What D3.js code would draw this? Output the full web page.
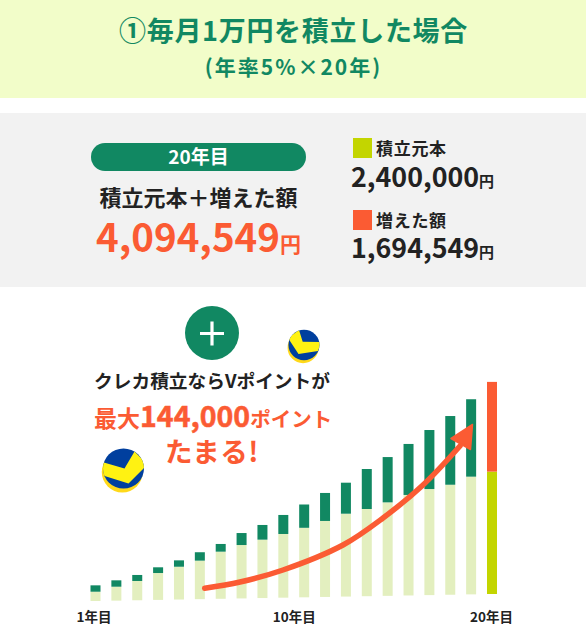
<!DOCTYPE html>
<html lang="ja"><head><meta charset="utf-8">
<script src="https://cdn.jsdelivr.net/npm/d3@7/dist/d3.min.js"></script>
<style>html,body{margin:0;padding:0;background:#fff}svg{display:block}
text{font-family:"Noto Sans CJK JP","Noto Sans",sans-serif;font-weight:700}</style></head>
<body><div id="c"></div>
<script>
const years = d3.range(1, 21);
const principal = [182000,273000,378000,527000,643000,755000,924000,1047000,1145000,1249000,1363000,1490000,1625000,1710000,1833000,1971000,2080000,2157000,2308000,2400000];
const growth = [125000,125000,118000,112000,125000,165000,151000,235000,288000,373000,457000,549000,608000,784000,888000,1000000,1157000,1347000,1518000,1759000];
const tickYears = [1, 10, 20];
const tickLabels = ["1年目", "10年目", "20年目"];

const GREEN="#118862", ORANGE="#FB5B33", LIME="#C3D500", PALE="#E3EFBF", INK="#222222";
const svg = d3.select("#c").append("svg").attr("width",586).attr("height",639);
function txt(s,x,y,size,fill,anchor="middle",ls=0){
  return svg.append("text").attr("x",x).attr("y",y).attr("font-size",size).attr("fill",fill)
    .attr("text-anchor",anchor).attr("letter-spacing",ls).text(s);
}
svg.append("rect").attr("width",586).attr("height",98).attr("fill","#F2FDC9");
svg.append("rect").attr("y",113).attr("width",586).attr("height",174).attr("fill","#F2F2F2");
txt("①毎月1万円を積立した場合",293.5,41,27,GREEN,"middle",0.7);
txt("(年率5%×20年)",293.5,74.5,21,GREEN,"middle",2);

svg.append("rect").attr("x",91).attr("y",143).attr("width",215).attr("height",28).attr("rx",14).attr("fill",GREEN);
txt("20年目",198.5,164,19,"#fff");
txt("積立元本＋増えた額",198.5,206,22,INK);
const big=txt("4,094,549",96,252,38.5,ORANGE,"start");
big.append("tspan").attr("font-size",21).text("円");

svg.append("rect").attr("x",353).attr("y",138).attr("width",19).attr("height",20).attr("fill",LIME);
txt("積立元本",376,154.5,17,INK,"start",0.7);
txt("2,400,000",351,187,26.8,INK,"start").append("tspan").attr("font-size",15).text("円");
svg.append("rect").attr("x",353).attr("y",210).attr("width",19).attr("height",20).attr("fill",ORANGE);
txt("増えた額",376,226.5,17,INK,"start",0.7);
txt("1,694,549",351,258,26.8,INK,"start").append("tspan").attr("font-size",15).text("円");

svg.append("circle").attr("cx",212).attr("cy",333).attr("r",27).attr("fill",GREEN);
svg.append("path").attr("d","M200 333.5H224M212 321.5V345.5").attr("stroke","#fff").attr("stroke-width",3.2);

txt("クレカ積立ならVポイントが",212,388,18.7,INK);
const t2=txt("最大",94,427,23,ORANGE,"start");
t2.append("tspan").attr("font-size",28.5).attr("stroke",ORANGE).attr("stroke-width",0.5).text("144,000");
t2.append("tspan").attr("font-size",20.5).text("ポイント");
txt("たまる!",212,462,27.5,ORANGE,"middle",0.5);

function coin(id,cx,cy,r,vee){
  const g=svg.append("g").attr("transform",`translate(${cx},${cy})`);
  g.append("circle").attr("cx",-r*0.06).attr("cy",r*0.17).attr("r",r).attr("fill","#FFD91A");
  g.append("ellipse").attr("rx",r).attr("ry",r*0.98).attr("fill","#003F9E");
  g.append("clipPath").attr("id",id).append("circle").attr("r",r);
  g.append("path").attr("clip-path",`url(#${id})`).attr("d",vee).attr("fill","#FFF212");
}
coin("coinA",123.5,468.5,20.5,"M-23 -7L1 0L11 -17L24 -4L5 15L-24 6Z");
coin("coinB",304,345,15.5,"M-16 -7L-5 -15L-1.3 -3.3L17 -3L14 6L-5.5 9Z");

const x = d3.scaleLinear().domain([1,20]).range([95.5,492]);
const h = d3.scaleLinear().domain([0,1000000]).range([0,51]);
const base = d3.scaleLinear().domain([1,20]).range([601,594]);
const bw = 10;
const rows = years.map((y,i)=>({y,p:principal[i],g:growth[i]}));
const bars = svg.append("g");
bars.selectAll(".p").data(rows).join("rect").attr("class","p")
  .attr("x",d=>x(d.y)-bw/2).attr("width",bw)
  .attr("y",d=>base(d.y)-h(d.p)).attr("height",d=>h(d.p))
  .attr("fill",d=>d.y===20?LIME:PALE);
bars.selectAll(".g").data(rows).join("rect").attr("class","g")
  .attr("x",d=>x(d.y)-bw/2).attr("width",bw)
  .attr("y",d=>base(d.y)-h(d.p)-h(d.g)).attr("height",d=>h(d.g))
  .attr("fill",d=>d.y===20?ORANGE:GREEN);
svg.selectAll(".tick").data(tickYears).join("text").attr("class","tick")
  .attr("x",d=>x(d)+(d===1?-1.5:d===10?11:-0.5)).attr("y",622).attr("text-anchor","middle")
  .attr("font-size",13.5).attr("fill",INK).text((d,i)=>tickLabels[i]);

const arrowPts=[[204.7,588.3],[240,582],[283,570],[343,545],[383,518],[423,485],[460,446]];
svg.append("path").attr("d",d3.line().curve(d3.curveCatmullRom)(arrowPts))
  .attr("fill","none").attr("stroke",ORANGE).attr("stroke-width",5.5).attr("stroke-linecap","round");
svg.append("path").attr("d","M472.5 424.5L451 438.5L470.5 449.5Z").attr("fill",ORANGE).attr("stroke",ORANGE).attr("stroke-width",1.5).attr("stroke-linejoin","round");
</script></body></html>
